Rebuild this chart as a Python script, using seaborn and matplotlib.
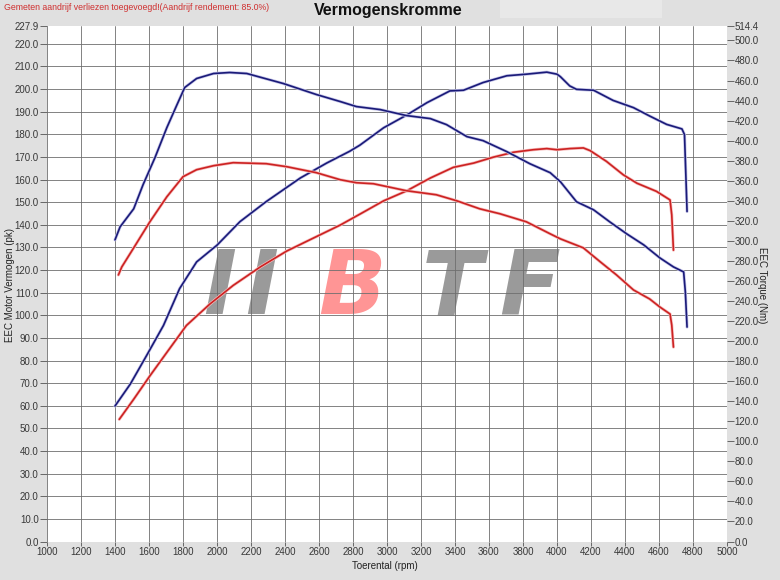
import matplotlib
matplotlib.use("Agg")
import matplotlib.pyplot as plt
import matplotlib.patheffects as pe
from matplotlib.patches import Rectangle
import seaborn as sns

# dyno sheet readings: blue = tuned run, red = stock run
# power on the left axis (pk), torque on the right axis (Nm)
rpm_pwr_tuned = [1400, 1490, 1585, 1685, 1780, 1880, 2000, 2135, 2290, 2490, 2645, 2780, 2840,
                 2980, 3115, 3235, 3370, 3450, 3565, 3705, 3820, 3940, 4000, 4020, 4075, 4115,
                 4215, 4330, 4450, 4545, 4645, 4735, 4750, 4765]
pwr_tuned = [59.9, 69.6, 82.1, 95.5, 111.8, 123.6, 131.0, 141.4, 150.3, 160.7, 167.3, 172.5, 175.2,
             182.9, 188.5, 194.0, 199.2, 199.5, 202.9, 205.9, 206.6, 207.5, 206.6, 205.5, 201.4, 199.9,
             199.5, 195.0, 191.8, 188.1, 184.4, 182.4, 179.9, 145.9]

rpm_pwr_stock = [1425, 1510, 1605, 1705, 1820, 1960, 2095, 2255, 2410, 2585, 2725, 2840, 2980,
                 3115, 3255, 3390, 3510, 3625, 3745, 3860, 3940, 4000, 4075, 4155, 4195, 4290,
                 4390, 4470, 4585, 4665, 4675, 4685]
pwr_stock = [54.0, 62.9, 73.2, 83.6, 95.5, 105.1, 113.2, 121.4, 128.4, 134.8, 139.9, 144.7, 150.6,
             155.0, 160.7, 165.4, 167.3, 169.9, 172.1, 173.2, 173.7, 173.2, 173.7, 174.0, 172.8, 168.1,
             162.1, 158.4, 154.8, 151.0, 144.4, 128.8]

rpm_trq_tuned = [1400, 1430, 1510, 1565, 1635, 1705, 1765, 1810, 1880, 1980, 2075, 2175, 2390,
                 2585, 2725, 2820, 2960, 3115, 3255, 3350, 3470, 3565, 3705, 3840, 3960, 4020,
                 4115, 4215, 4310, 4410, 4510, 4605, 4685, 4745, 4755, 4765]
trq_tuned = [301, 314, 332, 356, 383, 413, 436, 453, 462, 467, 468, 467, 457,
             446, 439, 434, 431, 425, 422, 416, 404, 400, 389, 377, 368, 359,
             339, 331, 319, 307, 296, 283, 274, 269, 249, 214]

rpm_trq_stock = [1420, 1440, 1510, 1605, 1705, 1800, 1880, 1980, 2095, 2290, 2410, 2585, 2725,
                 2820, 2920, 3115, 3290, 3410, 3545, 3665, 3820, 3960, 4020, 4155, 4255, 4350,
                 4450, 4545, 4605, 4665, 4675, 4685]
trq_stock = [266, 274, 293, 319, 344, 364, 371, 375, 378, 377, 374, 368, 361,
             358, 357, 350, 346, 340, 332, 327, 319, 307, 302, 293, 279, 266,
             251, 242, 234, 227, 216, 194]

rpm_ticks = list(range(1000, 5001, 200))
pwr_ticks = [i * 10.0 for i in range(23)]
trq_ticks = [i * 20.0 for i in range(26)]
pwr_max = 227.9
trq_max = 514.4

BLUE = "#1a1a78"
RED = "#cc2222"
BG = "#e0e0e0"

sns.set_style("white")
plt.rcParams["font.family"] = ["Liberation Sans", "DejaVu Sans"]

fig = plt.figure(figsize=(7.8, 5.8), dpi=100, facecolor=BG)
ax = fig.add_axes([47 / 780, 38.5 / 580, 680 / 780, 515.5 / 580])
ax2 = ax.twinx()

# lighter box in the header
fig.patches.append(Rectangle((500 / 780, 1 - 18 / 580), 162 / 780, 18 / 580,
                             transform=fig.transFigure, facecolor="#e8e8e8",
                             edgecolor="none", zorder=0))

glow_b = [pe.Stroke(linewidth=2.2, foreground="#c4c4e8"), pe.Normal()]
glow_r = [pe.Stroke(linewidth=2.2, foreground="#f6bcbc"), pe.Normal()]

sns.lineplot(x=rpm_pwr_tuned, y=pwr_tuned, ax=ax, color=BLUE, lw=1.2, estimator=None)
ax.lines[-1].set_path_effects(glow_b)
sns.lineplot(x=rpm_pwr_stock, y=pwr_stock, ax=ax, color=RED, lw=1.2, estimator=None)
ax.lines[-1].set_path_effects(glow_r)
sns.lineplot(x=rpm_trq_tuned, y=trq_tuned, ax=ax2, color=BLUE, lw=1.2, estimator=None)
ax2.lines[-1].set_path_effects(glow_b)
sns.lineplot(x=rpm_trq_stock, y=trq_stock, ax=ax2, color=RED, lw=1.2, estimator=None)
ax2.lines[-1].set_path_effects(glow_r)

ax.set_facecolor("white")
ax.set_xlim(1000, 5000)
ax.set_ylim(0, pwr_max)
ax2.set_ylim(0, trq_max)

ax.set_xticks(rpm_ticks)
ax.set_xticklabels([str(t) for t in rpm_ticks])
ax.set_yticks(pwr_ticks)
ax.set_yticklabels([f"{t:.1f}" for t in pwr_ticks])
ax.set_yticks([pwr_max], minor=True)
ax.set_yticklabels([f"{pwr_max:.1f}"], minor=True)
ax2.set_yticks(trq_ticks)
ax2.set_yticklabels([f"{t:.1f}" for t in trq_ticks])
ax2.set_yticks([trq_max], minor=True)
ax2.set_yticklabels([f"{trq_max:.1f}"], minor=True)

ax.set_axisbelow("line")
ax.grid(True, which="major", color="#6e6e6e", lw=0.6)
for a in (ax, ax2):
    for s in a.spines.values():
        s.set_visible(False)
    a.tick_params(which="both", labelsize=7, labelcolor="#383838", color="#666666", width=0.7)
ax.tick_params(axis="y", which="both", left=True, length=5, pad=1)
ax.tick_params(axis="x", bottom=True, length=3, pad=1)
ax2.tick_params(axis="y", which="both", right=True, length=5, pad=0.5)

ax.set_xlabel("Toerental (rpm)", fontsize=7, color="#222222", va="center", ha="center")
ax.xaxis.set_label_coords((385 - 47) / 680, (541.5 - 566) / 515.5)
ax.set_ylabel("EEC Motor Vermogen (pk)", fontsize=7, color="#222222", va="center", ha="center")
ax.yaxis.set_label_coords((10 - 47) / 680, (541.5 - 285) / 515.5)
ax2.set_ylabel("EEC Torque (Nm)", fontsize=7, color="#222222", rotation=270, va="center", ha="center")
ax2.yaxis.set_label_coords((762 - 47) / 680, (541.5 - 285) / 515.5)

# watermark logo
logo = [("I", 220, "#9a9a9a"), ("I", 262, "#9a9a9a"), ("B", 352, "#ff9595"),
        ("T", 452, "#9a9a9a"), ("F", 530, "#9a9a9a")]
for ch, px, col in logo:
    ax.text((px - 47) / 680, (541.5 - 290) / 515.5, ch, transform=ax.transAxes,
            fontsize=64, fontweight="bold", fontstyle="italic", family="DejaVu Sans",
            color=col, ha="center", va="center", zorder=1)

fig.text(388 / 780, 1 - 10 / 580, "Vermogenskromme", fontsize=11.5, fontweight="bold",
         ha="center", va="center", color="#111111")
fig.text(4 / 780, 1 - 7 / 580, "Gemeten aandrijf verliezen toegevoegd!(Aandrijf rendement: 85.0%)",
         fontsize=6.3, color="#d03030", ha="left", va="center")

fig.savefig("out.png", dpi=100, facecolor=BG)
